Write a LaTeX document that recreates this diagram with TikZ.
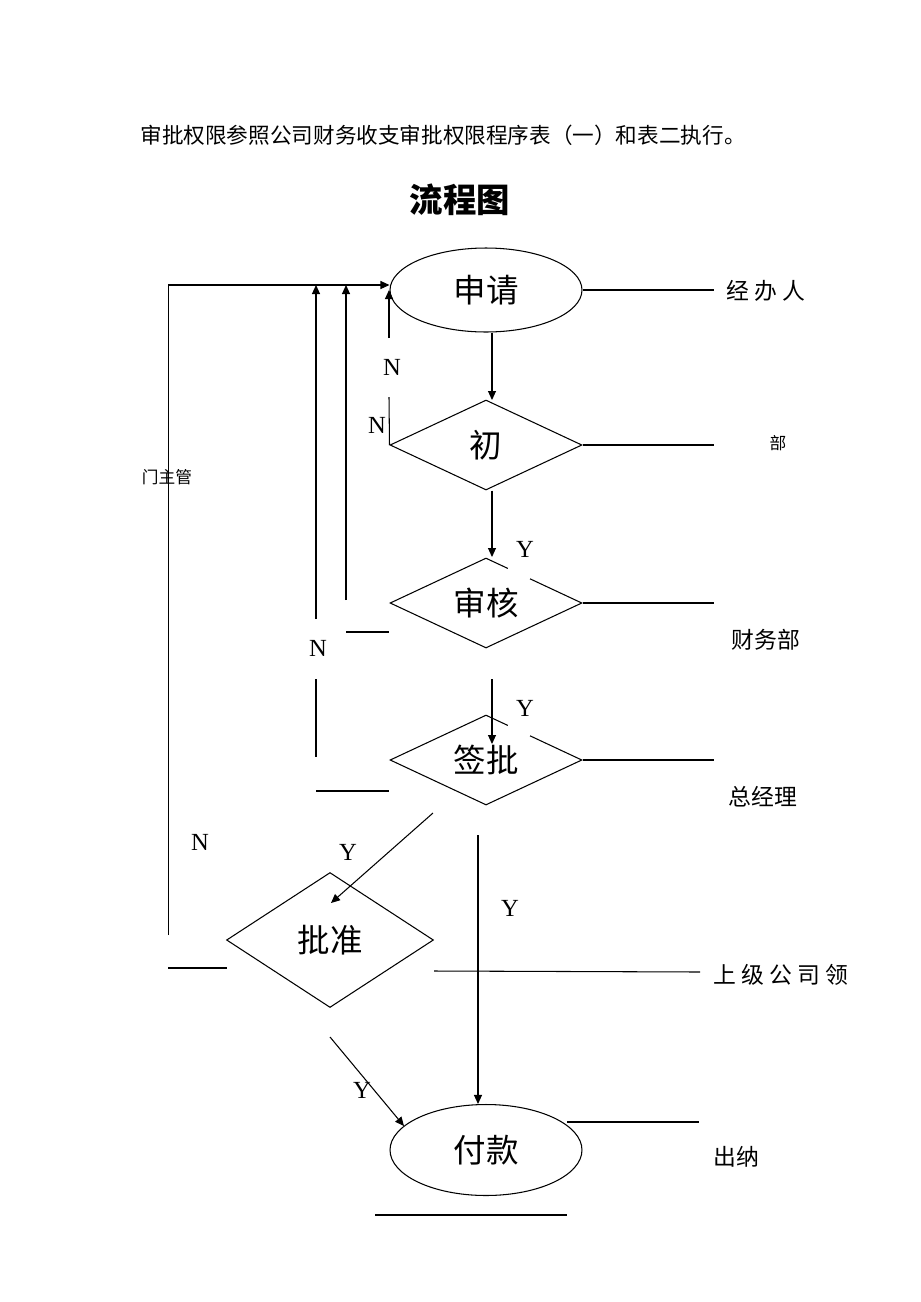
\documentclass[tikz,border=0pt]{standalone}
\usepackage{fontspec}
\setmainfont{Liberation Serif}
\newfontfamily\cjk{Noto Sans CJK SC}
\usetikzlibrary{positioning,shapes.geometric,arrows.meta}

\begin{document}
\begin{tikzpicture}[x=0.02cm,y=-0.02cm,line width=0.6pt]
\tikzset{E/.style={ellipse,draw,inner sep=0pt,minimum width=3.84cm,minimum height=1.68cm,font=\cjk\fontsize{18.5}{18.5}\selectfont}}
\tikzset{D/.style={diamond,draw,aspect=2,inner sep=0pt,minimum width=3.84cm,minimum height=1.8cm,font=\cjk\fontsize{18.5}{18.5}\selectfont}}
\tikzset{R/.style={inner sep=0pt,font=\cjk\fontsize{13}{13}\selectfont}}
\tikzset{S/.style={inner sep=0pt,font=\cjk\fontsize{9.5}{9.5}\selectfont}}
\tikzset{YN/.style={inner sep=0pt,font=\fontsize{14}{14}\selectfont}}
\tikzset{arr/.style={-{Triangle[length=1.8mm,width=1.6mm]}}}
\tikzset{gap/.style={draw=white,line width=2pt}}

  \useasboundingbox (0,0) rectangle (920,1302);

  \node[inner sep=0pt,anchor=west,font=\cjk\fontsize{12.3}{12.3}\selectfont] (note) at (140,135) {审批权限参照公司财务收支审批权限程序表（一）和表二执行。};
  \node[inner sep=0pt,font=\cjk\bfseries\fontsize{19}{19}\selectfont] (title) at (460,200) {流程图};

  \node[E] (sq) at (486,290) {申请};
  \node[D] (cs) at (486,445) {初};
  \node[D] (sh) at (486,603) {审核};
  \node[D] (qp) at (486,760) {签批};
  \node[D,minimum width=4.14cm,minimum height=2.7cm] (pz) at (330,940) {批准};
  \node[E,minimum height=1.82cm] (fk) at (486,1150) {付款};

  \coordinate (tl) at (168,285);
  \coordinate (bl) at (168,935);
  \coordinate (n1) at (389,397);
  \coordinate (n2) at (389,338);
  \coordinate (u1) at (316,619);
  \coordinate (u2) at (346,600);
  \coordinate (u3) at (316,679);
  \coordinate (u4) at (316,757);
  \coordinate (s1) at (346,632);
  \coordinate (s2) at (389,632);
  \coordinate (s3) at (316,791);
  \coordinate (s4) at (389,791);
  \coordinate (s5) at (168,968);
  \coordinate (s6) at (227,968);
  \coordinate (d1) at (492,400);
  \coordinate (d2) at (492,557);
  \coordinate (d3) at (492,679);
  \coordinate (d4) at (492,744);
  \coordinate (g1) at (433,813);
  \coordinate (g2) at (331,903);
  \coordinate (g3) at (478,835);
  \coordinate (g4) at (330,1037);
  \coordinate (g5) at (404,1126);
  \coordinate (e1) at (714,290);
  \coordinate (e2) at (714,445);
  \coordinate (e3) at (714,603);
  \coordinate (e4) at (714,760);
  \coordinate (e5a) at (434,971);
  \coordinate (e5) at (700,972);
  \coordinate (e6a) at (567,1122);
  \coordinate (e6) at (699,1122);
  \coordinate (b1) at (375,1215);
  \coordinate (b2) at (567,1215);

  \draw[arr] (d1 |- sq.south) -- (d1);
  \draw (cs.west) -- (n1);
  \draw[arr] (n2) -- (n2 |- sq.west);
  \draw[arr] (tl) -- (tl -| sq.west);
  \draw[line width=0.4pt] (bl) -- (tl);
  \draw[arr] (u1) -- (u1 |- tl);
  \draw[arr] (u2) -- (u2 |- tl);
  \draw (u3) -- (u4);
  \draw (s1) -- (s2);
  \draw (s3) -- (s4);
  \draw (s5) -- (s6);
  \draw[arr] (d2 |- cs.south) -- (d2);
  \draw[arr] (d3) -- (d4);
  \draw[arr] (g1) -- (g2);
  \draw[arr] (g3) -- (g3 |- fk.north);
  \draw[arr] (g4) -- (g5);
  \draw (sq.east) -- (e1);
  \draw (cs.east) -- (e2);
  \draw (sh.east) -- (e3);
  \draw (qp.east) -- (e4);
  \draw (e5a) -- (e5);
  \draw (e6a) -- (e6);
  \draw[line width=1.2pt] (b1) -- (b2);
  \draw[gap] (508,568.3) -- (530,578.6);
  \draw[gap] (508,725.3) -- (530,735.6);

  \node[YN] (yn1) at (392,367) {N};
  \node[YN] (yn2) at (377,425) {N};
  \node[YN] (yn3) at (525,549) {Y};
  \node[YN] (yn4) at (318,648) {N};
  \node[YN] (yn5) at (525,708) {Y};
  \node[YN] (yn6) at (200,842) {N};
  \node[YN] (yn7) at (348,852) {Y};
  \node[YN] (yn8) at (510,908) {Y};
  \node[YN] (yn9) at (362,1090) {Y};

  \node[R] (jbr) at (766,291) {经\hspace{3pt}办\hspace{3pt}人};
  \node[S] (bu) at (778,443) {部};
  \node[R] (cwb) at (766,640) {财务部};
  \node[R] (zjl) at (763,797) {总经理};
  \node[R] (sjld) at (781,975) {上\hspace{3pt}级\hspace{3pt}公\hspace{3pt}司\hspace{3pt}领};
  \node[R] (cn) at (736,1157) {出纳};
  \node[S] (mzg) at (167,477) {门主管};
\end{tikzpicture}
\end{document}
